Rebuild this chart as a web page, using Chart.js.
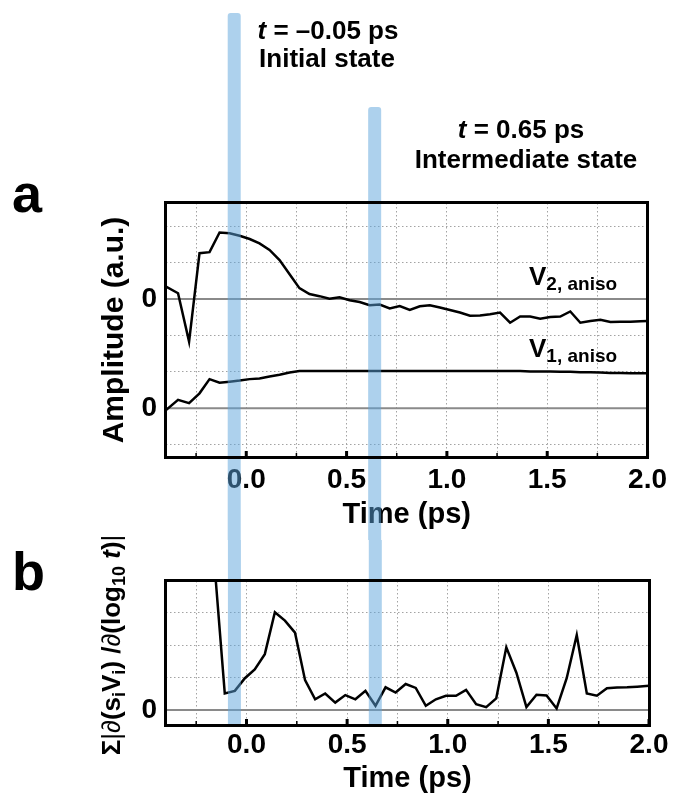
<!DOCTYPE html>
<html lang="en">
<head>
<meta charset="UTF-8">
<title>Anisotropy amplitudes and time derivative</title>
<script src="https://cdn.jsdelivr.net/npm/chart.js"></script>
<style>
  html, body { margin: 0; padding: 0; background: #fff; overflow: hidden; }
  #wrap { position: relative; width: 673px; height: 801px; }
  #wrap canvas { position: absolute; left: 0; }
  #chartA { top: 0; z-index: 1; }
  #chartB { top: 500px; z-index: 2; }
  .frame { position: absolute; box-sizing: border-box; border: 3.5px solid #000; z-index: 3; pointer-events: none; }
</style>
</head>
<body>
<div id="wrap">
  <canvas id="chartA" width="673" height="540"></canvas>
  <canvas id="chartB" width="673" height="301"></canvas>
</div>
<script>
// ---- data ----
// panel a: V2 is plotted 3 units above V1 (its zero line sits at 3)
const timeA = [-0.40, -0.34, -0.285, -0.233, -0.183, -0.133, -0.083, -0.033, 0.017, 0.066,
  0.116, 0.166, 0.216, 0.265, 0.315, 0.365, 0.415, 0.465, 0.515, 0.565,
  0.615, 0.665, 0.715, 0.765, 0.815, 0.865, 0.915, 0.965, 1.015, 1.065,
  1.115, 1.165, 1.215, 1.265, 1.315, 1.365, 1.415, 1.465, 1.515, 1.565,
  1.615, 1.665, 1.715, 1.765, 1.815, 1.865, 1.915, 1.965, 2.0];
const v2Aniso = [3.34, 3.16, 1.83, 4.26, 4.29, 4.83, 4.81, 4.74, 4.65, 4.53,
  4.35, 4.07, 3.68, 3.30, 3.14, 3.08, 3.01, 3.05, 2.97, 2.92,
  2.83, 2.85, 2.74, 2.81, 2.70, 2.80, 2.83, 2.77, 2.70, 2.63,
  2.54, 2.55, 2.58, 2.63, 2.35, 2.52, 2.52, 2.46, 2.51, 2.52,
  2.66, 2.35, 2.40, 2.43, 2.37, 2.38, 2.38, 2.39, 2.40];
const v1Aniso = [-0.05, 0.23, 0.14, 0.41, 0.80, 0.70, 0.73, 0.76, 0.80, 0.82,
  0.87, 0.92, 0.98, 1.02, 1.02, 1.02, 1.02, 1.02, 1.02, 1.02,
  1.02, 1.02, 1.02, 1.02, 1.02, 1.02, 1.02, 1.02, 1.02, 1.02,
  1.02, 1.02, 1.02, 1.02, 1.02, 1.02, 1.01, 1.01, 1.01, 1.00,
  1.00, 0.99, 0.99, 0.98, 0.97, 0.97, 0.96, 0.96, 0.96];

// panel b: sum of |d(s_i V_i)/d(log10 t)|
const timeB = [-0.158, -0.108, -0.058, -0.008, 0.041, 0.091, 0.141, 0.191, 0.241, 0.291,
  0.341, 0.391, 0.441, 0.491, 0.541, 0.591, 0.641, 0.691, 0.741, 0.791,
  0.841, 0.891, 0.941, 0.991, 1.041, 1.091, 1.141, 1.191, 1.241, 1.291,
  1.341, 1.391, 1.441, 1.491, 1.541, 1.591, 1.641, 1.691, 1.741, 1.791,
  1.841, 1.891, 1.941, 2.0];
const derivSum = [4.4, 0.51, 0.59, 0.98, 1.25, 1.72, 3.01, 2.75, 2.38, 0.92,
  0.33, 0.51, 0.23, 0.46, 0.33, 0.59, 0.13, 0.70, 0.54, 0.80,
  0.68, 0.13, 0.33, 0.44, 0.44, 0.62, 0.18, 0.09, 0.36, 1.93,
  1.15, 0.09, 0.47, 0.45, 0.05, 0.98, 2.31, 0.51, 0.44, 0.67,
  0.69, 0.70, 0.72, 0.75];

const xTicks = [-0.25, 0, 0.25, 0.5, 0.75, 1, 1.25, 1.5, 1.75, 2];
const xTickLabels = ['', '0.0', '', '0.5', '', '1.0', '', '1.5', '', '2.0'];
const yTicksA = [-1, 0, 1, 2, 3, 4, 5];
const zeroLinesA = [0, 3];
const yTicksB = [0, 1, 2, 3];
const zeroLinesB = [0];
const bandTimes = [-0.06, 0.64];   // t = -0.05 ps and t = 0.65 ps markers

const FONT = "'Liberation Sans', Arial, Helvetica, sans-serif";
const B = s => `bold ${s}px ${FONT}`;
const BI = s => `italic bold ${s}px ${FONT}`;
const BAND = 'rgba(91, 163, 219, 0.5)';

function toPoints(xs, ys) {
  return xs.map((t, i) => ({ x: t, y: ys[i] }));
}

// draw a row of text pieces with different fonts / baseline shifts
function drawRuns(ctx, x, y, runs, align) {
  let w = 0;
  runs.forEach(r => { ctx.font = r[1]; w += ctx.measureText(r[0]).width; });
  let cx = align === 'center' ? x - w / 2 : x;
  ctx.textAlign = 'left';
  ctx.textBaseline = 'alphabetic';
  runs.forEach(r => {
    ctx.font = r[1];
    ctx.fillText(r[0], cx, y + (r[2] || 0));
    cx += ctx.measureText(r[0]).width;
  });
}

// zero lines, tick marks, markers and free text
function panelPlugin(cfg) {
  return {
    id: 'panelDecor',
    beforeDatasetsDraw(chart) {
      const { ctx, chartArea: a, scales: { y } } = chart;
      ctx.save();
      ctx.setLineDash([]);
      ctx.strokeStyle = '#8a8a8a';
      ctx.lineWidth = 2;
      cfg.zeros.forEach(v => {
        const py = y.getPixelForValue(v);
        ctx.beginPath();
        ctx.moveTo(a.left, py);
        ctx.lineTo(a.right, py);
        ctx.stroke();
      });
      ctx.restore();
    },
    afterDraw(chart) {
      const { ctx, chartArea: a, scales: { x } } = chart;
      const Bt = a.bottom;

      ctx.save();
      ctx.fillStyle = '#000';
      cfg.texts(ctx, chart, a);
      ctx.restore();

      ctx.save();
      ctx.fillStyle = '#000';
      xTicks.forEach((v, i) => {
        const px = x.getPixelForValue(v);
        const major = xTickLabels[i] !== '';
        const w = major ? 3 : 1.5, h = major ? 6 : 4;
        ctx.fillRect(px - w / 2, Bt - h, w, h);
      });
      ctx.restore();

      ctx.save();
      ctx.fillStyle = BAND;
      bandTimes.forEach((t, i) => {
        const px = x.getPixelForValue(t);
        const top = cfg.bandTop[i];
        const bottom = cfg.toCanvasEnd ? chart.height : Bt + 2;
        ctx.beginPath();
        ctx.roundRect(px - 6.5, top, 13, bottom - top, cfg.toCanvasEnd ? [3, 3, 0, 0] : 0);
        ctx.fill();
      });
      ctx.restore();
    }
  };
}

function baseOptions(o) {
  return {
    responsive: false,
    animation: false,
    layout: { padding: { left: 0, right: 24, top: o.top, bottom: 0 } },
    elements: { point: { radius: 0 }, line: { borderWidth: 2.5, borderColor: '#000', tension: 0 } },
    plugins: { legend: { display: false }, tooltip: { enabled: false } },
    scales: {
      x: {
        type: 'linear', min: -0.4, max: 2.0,
        afterBuildTicks: s => { s.ticks = xTicks.map(v => ({ value: v })); },
        afterFit: s => { s.height = o.xHeight; },
        ticks: {
          autoSkip: false, maxRotation: 0, padding: o.xPad, color: '#000',
          font: { family: FONT, size: 28, weight: 'bold' },
          callback: (v, i) => xTickLabels[i]
        },
        grid: { color: '#a3a3a3', lineWidth: 1, drawTicks: false },
        border: { display: false, dash: [1.5, 2.5] },
        title: {
          display: true, text: 'Time (ps)', color: '#000',
          font: { family: FONT, size: 29, weight: 'bold' },
          padding: { top: 0, bottom: o.titlePad }
        }
      },
      y: {
        type: 'linear', min: o.yMin, max: o.yMax,
        afterBuildTicks: s => { s.ticks = o.yTicks.map(v => ({ value: v })); },
        afterFit: s => { s.width = 166; },
        ticks: {
          padding: 9, color: '#000',
          font: { family: FONT, size: 28, weight: 'bold' },
          callback: v => (o.zeros.includes(v) ? '0' : '')
        },
        grid: { color: '#a3a3a3', lineWidth: 1, drawTicks: false },
        border: { display: false, dash: [1.5, 2.5] },
        title: {
          display: !!o.yTitle, text: o.yTitle || '', color: '#000',
          font: { family: FONT, size: 30, weight: 'bold' },
          padding: { top: 97, bottom: 0 }
        }
      }
    }
  };
}

function lineSet(label, xs, ys) {
  return { label, data: toPoints(xs, ys), borderColor: '#000', borderWidth: 2.5, pointRadius: 0 };
}

// black frame laid over the plot area, sized from the chart's own layout
function addFrame(chart, canvasTop) {
  const a = chart.chartArea;
  const lw = 3.5;
  const box = document.createElement('div');
  box.className = 'frame';
  box.style.left = (a.left - lw / 2) + 'px';
  box.style.top = (canvasTop + a.top - lw / 2) + 'px';
  box.style.width = (a.right - a.left + lw) + 'px';
  box.style.height = (a.bottom - a.top + lw) + 'px';
  document.getElementById('wrap').appendChild(box);
}

const chartA = new Chart(document.getElementById('chartA'), {
  type: 'line',
  data: {
    datasets: [
      lineSet('V2, aniso', timeA, v2Aniso),
      lineSet('V1, aniso', timeA, v1Aniso)
    ]
  },
  options: baseOptions({
    top: 203, xHeight: 83, xPad: 6, titlePad: 8,
    yMin: -1.34, yMax: 5.64, yTicks: yTicksA, zeros: zeroLinesA,
    yTitle: 'Amplitude (a.u.)'
  }),
  plugins: [panelPlugin({
    zeros: zeroLinesA,
    bandTop: [13, 107],
    toCanvasEnd: true,
    texts(ctx) {
      drawRuns(ctx, 12, 212, [['a', B(54)]], 'left');
      drawRuns(ctx, 328, 39, [['t', BI(26)], [' = \u20130.05 ps', B(26)]], 'center');
      drawRuns(ctx, 327, 67, [['Initial state', B(26)]], 'center');
      drawRuns(ctx, 521, 138, [['t', BI(26)], [' = 0.65 ps', B(26)]], 'center');
      drawRuns(ctx, 526, 168, [['Intermediate state', B(26)]], 'center');
      drawRuns(ctx, 529, 285, [['V', B(26)], ['2, aniso', B(19), 5]], 'left');
      drawRuns(ctx, 529, 357, [['V', B(26)], ['1, aniso', B(19), 5]], 'left');
    }
  })]
});

// panel b canvas starts 40 px above the end of panel a's canvas (both are transparent)
const chartB = new Chart(document.getElementById('chartB'), {
  type: 'line',
  data: {
    datasets: [
      lineSet('sum |d(s_i V_i)/d(log10 t)|', timeB, derivSum)
    ]
  },
  options: baseOptions({
    top: 81, xHeight: 76, xPad: 3, titlePad: 5,
    yMin: -0.46, yMax: 3.97, yTicks: yTicksB, zeros: zeroLinesB,
    yTitle: null
  }),
  plugins: [panelPlugin({
    zeros: zeroLinesB,
    bandTop: [40, 40],
    toCanvasEnd: false,
    texts(ctx, chart, a) {
      drawRuns(ctx, 12, 90, [['b', B(54)]], 'left');
      ctx.translate(120, (a.top + a.bottom) / 2 - 8);
      ctx.rotate(-Math.PI / 2);
      const R = `26px ${FONT}`, I = `italic 26px ${FONT}`;
      drawRuns(ctx, 0, 0, [
        ['\u03A3', B(26)], ['|', R], ['\u2202', I], ['(s', B(26)], ['i', B(18), 5],
        ['V', B(26)], ['i', B(18), 5], [') /', B(26)], ['\u2202', I], ['(log', B(26)],
        ['10', B(18), 5], [' ', B(26)], ['t', BI(26)], [')', B(26)], ['|', R]
      ], 'center');
    }
  })]
});

addFrame(chartA, 0);
addFrame(chartB, 500);
</script>
</body>
</html>
